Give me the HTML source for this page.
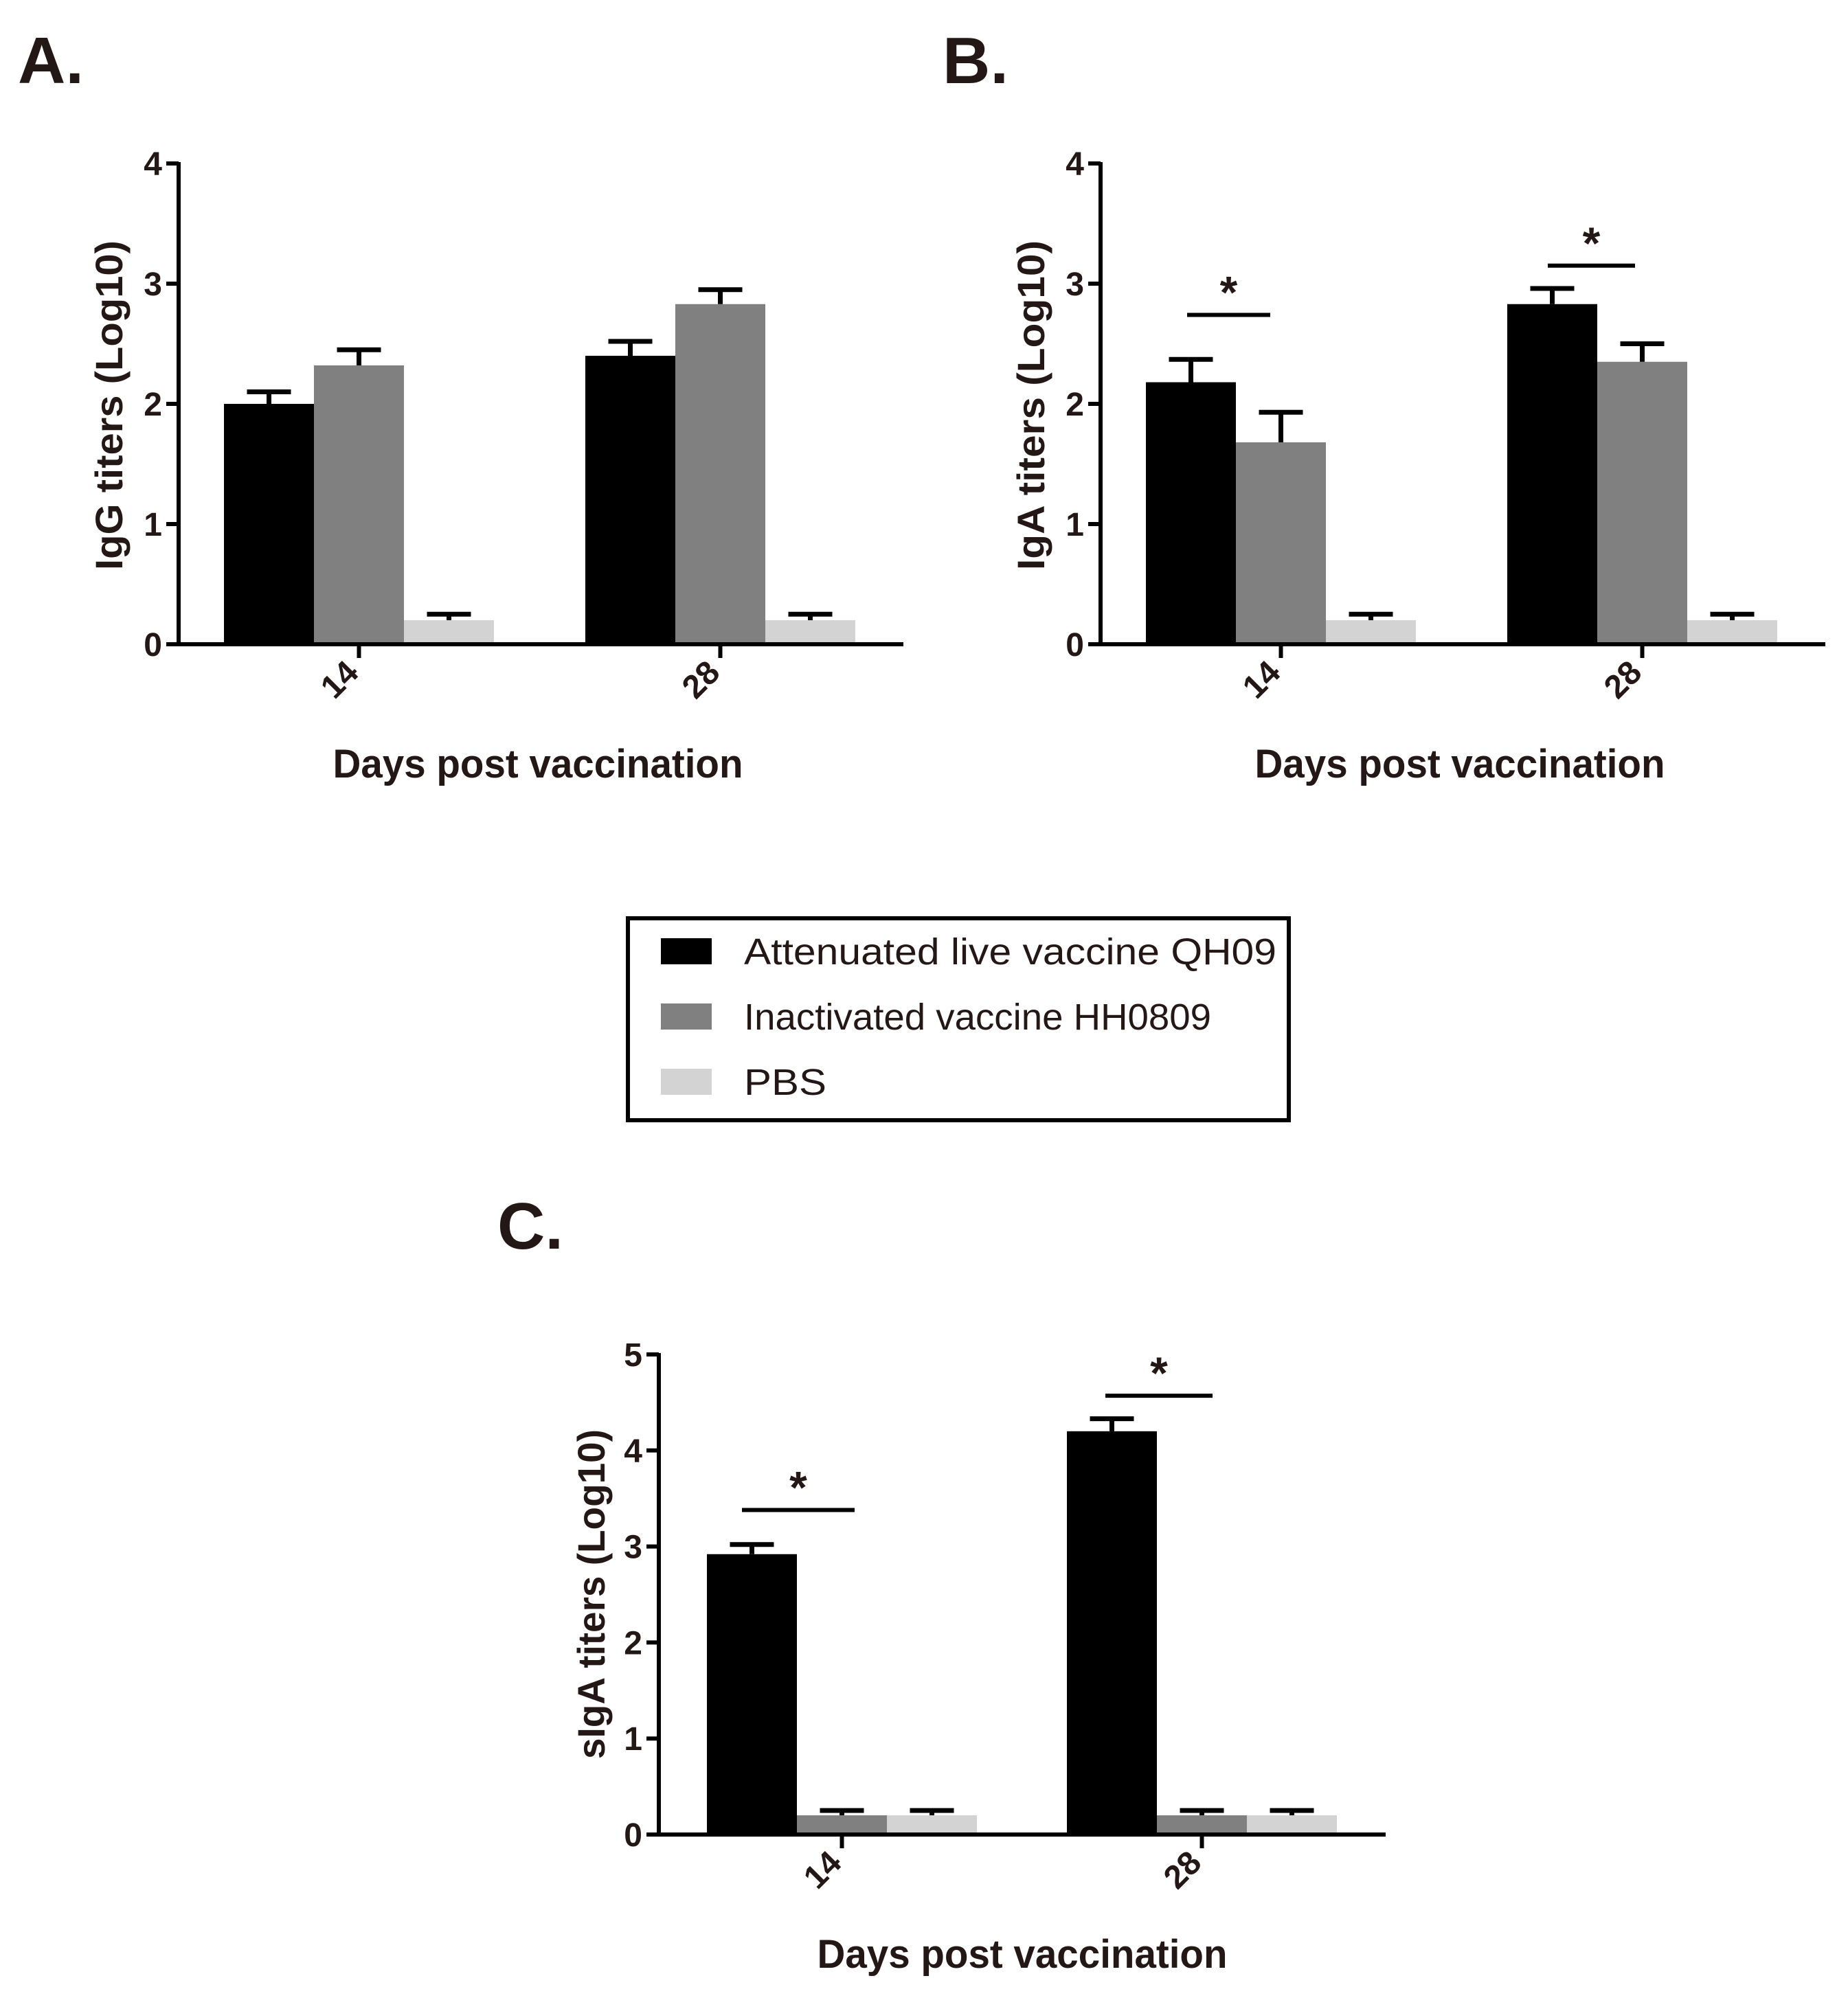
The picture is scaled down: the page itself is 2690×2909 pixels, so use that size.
<!DOCTYPE html>
<html><head><meta charset="utf-8"><style>
html,body{margin:0;padding:0;background:#fff;}
svg{display:block;font-family:"Liberation Sans",Arial,sans-serif;}
</style></head><body>
<svg id="fig" width="2690" height="2909" viewBox="0 0 2690 2909" xmlns="http://www.w3.org/2000/svg"></svg>
<script>
// ---- data ----
const categories = ["14", "28"];
const seriesNames = ["Attenuated live vaccine QH09", "Inactivated vaccine HH0809", "PBS"];
const seriesColors = ["#000000", "#808080", "#d3d3d3"];
const igG = [[2.0, 2.4], [2.32, 2.83], [0.2, 0.2]];
const igGErr = [[0.1, 0.12], [0.13, 0.12], [0.05, 0.05]];
const igA = [[2.18, 2.83], [1.68, 2.35], [0.2, 0.2]];
const igAErr = [[0.19, 0.13], [0.25, 0.15], [0.05, 0.05]];
const sIgA = [[2.92, 4.2], [0.2, 0.2], [0.2, 0.2]];
const sIgAErr = [[0.1, 0.13], [0.05, 0.05], [0.05, 0.05]];
const sigLinesB = [2.74, 3.15];
const sigLinesC = [3.38, 4.57];
const ticksAB = [0, 1, 2, 3, 4];
const ticksC = [0, 1, 2, 3, 4, 5];

const NS = "http://www.w3.org/2000/svg";
const svg = document.getElementById("fig");
const TXT = "#231815";
function mk(tag, attrs, parent) {
  const e = document.createElementNS(NS, tag);
  for (const k in attrs) e.setAttribute(k, attrs[k]);
  (parent || svg).appendChild(e);
  return e;
}

function panel(cfg) {
  const g = mk("g", {});
  
  
  const y = v => cfg.y0 - (v / cfg.max) * (cfg.y0 - cfg.yTop);
  for (let s = 0; s < 3; s++) {
    for (let c = 0; c < categories.length; c++) {
      const x = cfg.x0 + c * cfg.groupStep + s * cfg.barW;
      const v = cfg.vals[s][c];
      const r = mk("rect", { x: x, y: y(v), width: cfg.barW, height: cfg.y0 - y(v), fill: seriesColors[s] }, g);
      
      
      const e = cfg.err[s][c];
      const cx = x + cfg.barW / 2;
      const eb = mk("path", { d: `M${cx} ${y(v)}V${y(v + e)}M${cx - 32} ${y(v + e)}H${cx + 32}`, stroke: "#000", "stroke-width": 7, fill: "none" }, g);
      
      
    }
  }
  const ax = mk("path", { d: `M${cfg.axX} ${cfg.yTop - 2}V${cfg.y0}H${cfg.xEnd}`, stroke: "#000", "stroke-width": 6, fill: "none" }, g);
  
  
  cfg.ticks.forEach(t => {
    mk("line", { x1: cfg.axX - 18, x2: cfg.axX, y1: y(t), y2: y(t), stroke: "#000", "stroke-width": 6 }, g);
    const tl = mk("text", { x: cfg.axX - 24, y: y(t) + 17, "text-anchor": "end", "font-size": 48, "font-weight": "bold", fill: TXT }, g);
    tl.textContent = t;
    
    
  });
  categories.forEach((c, i) => {
    const tx = cfg.x0 + i * cfg.groupStep + 1.5 * cfg.barW;
    mk("line", { x1: tx, x2: tx, y1: cfg.y0, y2: cfg.y0 + 20, stroke: "#000", "stroke-width": 6 }, g);
    const tl = mk("text", { x: 0, y: 0, "text-anchor": "end", "font-size": 48, "font-weight": "bold", fill: TXT, transform: `translate(${tx + 2},${cfg.y0 + 44}) rotate(-45)` }, g);
    tl.textContent = c;
    
    
  });
  if (cfg.sig) {
    cfg.sig.forEach((sv, i) => {
      const l = mk("line", { x1: cfg.sigX[i][0], x2: cfg.sigX[i][1], y1: y(sv), y2: y(sv), stroke: "#000", "stroke-width": 6 }, g);
      
      
      const st = mk("text", { x: (cfg.sigX[i][0] + cfg.sigX[i][1]) / 2, y: y(sv) - 10, "text-anchor": "middle", "font-size": 66, "font-weight": "bold", fill: TXT }, g);
      st.textContent = "*";
      
      
    });
  }
  const xt = mk("text", { x: cfg.xTitleX, y: cfg.xTitleY, "text-anchor": "middle", "font-size": 58, "font-weight": "bold", fill: TXT, textLength: 597, lengthAdjust: "spacingAndGlyphs" }, g);
  xt.textContent = "Days post vaccination";
  
  
  const yt = mk("text", { x: 0, y: 0, "text-anchor": "middle", "font-size": 56, "font-weight": "bold", fill: TXT, textLength: 480, lengthAdjust: "spacingAndGlyphs", transform: `translate(${cfg.yTitleX},${cfg.yTitleY}) rotate(-90)` }, g);
  yt.textContent = cfg.yTitle;
  
  
  const pl = mk("text", { x: cfg.labX, y: cfg.labY, "font-size": 96, "font-weight": "bold", fill: TXT }, g);
  pl.textContent = cfg.label;
  
  
}

panel({ name: "panel-a-igg", key: "a", vals: igG, err: igGErr, max: 4, ticks: ticksAB,
  axX: 260, x0: 326, barW: 131, groupStep: 526, y0: 938, yTop: 238, xEnd: 1315,
  xTitleX: 783, xTitleY: 1132, yTitleX: 178, yTitleY: 590, yTitle: "IgG titers (Log10)", label: "A.", labX: 26, labY: 121 });
panel({ name: "panel-b-iga", key: "b", vals: igA, err: igAErr, max: 4, ticks: ticksAB,
  axX: 1602, x0: 1668, barW: 131, groupStep: 526, y0: 938, yTop: 238, xEnd: 2657,
  sig: sigLinesB, sigX: [[1728, 1849], [2253, 2380]],
  xTitleX: 2125, xTitleY: 1132, yTitleX: 1520, yTitleY: 590, yTitle: "IgA titers (Log10)", label: "B.", labX: 1372, labY: 121 });
panel({ name: "panel-c-siga", key: "c", vals: sIgA, err: sIgAErr, max: 5, ticks: ticksC,
  axX: 959, x0: 1029, barW: 131, groupStep: 524, y0: 2671, yTop: 1972, xEnd: 2017,
  sig: sigLinesC, sigX: [[1080, 1244], [1609, 1765]],
  xTitleX: 1488, xTitleY: 2865, yTitleX: 880, yTitleY: 2321, yTitle: "sIgA titers (Log10)", label: "C.", labX: 724, labY: 1818 });

const lg = mk("g", {});


mk("rect", { x: 914, y: 1337, width: 962, height: 294, fill: "#fff", stroke: "#000", "stroke-width": 6 }, lg);
const rowsY = [1385, 1480, 1575];
const textLens = [775, 680, 120];
seriesNames.forEach((n, i) => {
  const sw = mk("rect", { x: 962, y: rowsY[i] - 19, width: 74, height: 38, fill: seriesColors[i] }, lg);
  
  
  const t = mk("text", { x: 1083, y: rowsY[i] + 19, "font-size": 54, fill: TXT, textLength: textLens[i], lengthAdjust: "spacingAndGlyphs" }, lg);
  t.textContent = n;
  
  
});
</script>
</body></html>
